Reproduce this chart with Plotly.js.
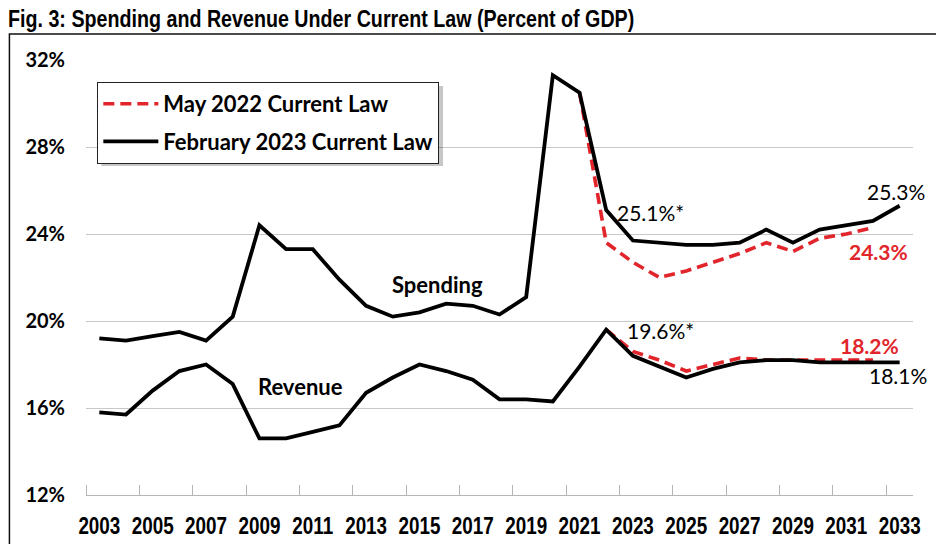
<!DOCTYPE html>
<html><head><meta charset="utf-8">
<script src="https://cdn.plot.ly/plotly-3.0.1.min.js"></script>
<style>html,body{margin:0;padding:0;background:#fff;} #chart{width:936px;height:544px;}</style>
</head><body><div id="chart"></div>
<script>
// ---- data ----
const years = [2003,2004,2005,2006,2007,2008,2009,2010,2011,2012,2013,2014,2015,2016,2017,2018,2019,2020,2021,2022,2023,2024,2025,2026,2027,2028,2029,2030,2031,2032,2033];
const spendingFeb2023 = [19.2,19.1,19.3,19.5,19.1,20.2,24.4,23.3,23.3,21.9,20.7,20.2,20.4,20.8,20.7,20.3,21.1,31.3,30.5,25.1,23.7,23.6,23.5,23.5,23.6,24.2,23.6,24.2,24.4,24.6,25.3];
const revenueFeb2023 = [15.8,15.7,16.8,17.7,18.0,17.1,14.6,14.6,14.9,15.2,16.7,17.4,18.0,17.7,17.3,16.4,16.4,16.3,17.9,19.6,18.4,17.9,17.4,17.8,18.1,18.2,18.2,18.1,18.1,18.1,18.1];
const spendingYearsMay2022 = [2021,2022,2023,2024,2025,2026,2027,2028,2029,2030,2031,2032];
const spendingMay2022 = [30.5,23.6,22.7,22.0,22.3,22.7,23.1,23.6,23.2,23.8,24.0,24.3];
const revenueYearsMay2022 = [2022,2023,2024,2025,2026,2027,2028,2029,2030,2031,2032];
const revenueMay2022 = [19.6,18.6,18.2,17.7,18.0,18.3,18.2,18.2,18.2,18.2,18.2];
const xTickYears = [2003,2005,2007,2009,2011,2013,2015,2017,2019,2021,2023,2025,2027,2029,2031,2033];
const yTicks = [12,16,20,24,28,32];
const seriesNames = ['May 2022 Current Law','February 2023 Current Law'];
const titleText = 'Fig. 3: Spending and Revenue Under Current Law (Percent of GDP)';

// ---- styles ----
const RED = '#e1252b';
const BLACK = '#000000';
const LATO = 'Lato, Carlito, Calibri, sans-serif';
const ARIAL = '"Liberation Sans", Arial, sans-serif';
const redLine = {color: RED, width: 3.6, dash: '11px,6px'};
const blackLine = {color: BLACK, width: 3.8};

const traces = [
  {x: spendingYearsMay2022, y: spendingMay2022, mode: 'lines', name: seriesNames[0], line: redLine, legendgroup: 'may', hoverinfo: 'skip'},
  {x: revenueYearsMay2022, y: revenueMay2022, mode: 'lines', name: seriesNames[0], line: redLine, legendgroup: 'may', showlegend: false, hoverinfo: 'skip'},
  {x: years, y: spendingFeb2023, mode: 'lines', name: seriesNames[1], line: blackLine, legendgroup: 'feb', hoverinfo: 'skip'},
  {x: years, y: revenueFeb2023, mode: 'lines', name: seriesNames[1], line: blackLine, legendgroup: 'feb', showlegend: false, hoverinfo: 'skip'}
];

const iY = y => years.indexOf(y);
const iS = y => spendingYearsMay2022.indexOf(y);
const iR = y => revenueYearsMay2022.indexOf(y);
const fmt = v => v.toFixed(1) + '%';

const annFontB = {family: LATO, size: 21, color: BLACK};
const annFontR = {family: LATO, size: 21, color: RED, weight: 'bold'};
const annotations = [
  {x: 2022, y: spendingFeb2023[iY(2022)], text: fmt(spendingFeb2023[iY(2022)]) + '*', xanchor: 'left', yanchor: 'middle', xshift: 9, yshift: -2, showarrow: false, font: annFontB},
  {x: 2022, y: revenueFeb2023[iY(2022)], text: fmt(revenueFeb2023[iY(2022)]) + '*', xanchor: 'left', yanchor: 'middle', xshift: 19, yshift: -1, showarrow: false, font: annFontB},
  {x: 2033, y: spendingFeb2023[iY(2033)], text: fmt(spendingFeb2023[iY(2033)]), xanchor: 'center', yanchor: 'middle', xshift: -4, yshift: 14, showarrow: false, font: annFontB},
  {x: 2032, y: spendingMay2022[iS(2032)], text: fmt(spendingMay2022[iS(2032)]), xanchor: 'center', yanchor: 'middle', xshift: 6, yshift: -24, showarrow: false, font: annFontR},
  {x: 2032, y: revenueMay2022[iR(2032)], text: fmt(revenueMay2022[iR(2032)]), xanchor: 'center', yanchor: 'middle', xshift: -3, yshift: 15, showarrow: false, font: annFontR},
  {x: 2033, y: revenueFeb2023[iY(2033)], text: fmt(revenueFeb2023[iY(2033)]), xanchor: 'center', yanchor: 'middle', xshift: -2, yshift: -13, showarrow: false, font: annFontB},
  {x: 2015.66, y: 21.7, text: 'Spending', showarrow: false, font: {family: LATO, size: 22, color: BLACK, weight: 'bold'}},
  {x: 2010.53, y: 17.0, text: 'Revenue', showarrow: false, font: {family: LATO, size: 22, color: BLACK, weight: 'bold'}}
];

const layout = {
  width: 936, height: 544,
  margin: {l: 86, r: 23, t: 60, b: 49},
  paper_bgcolor: '#ffffff', plot_bgcolor: '#ffffff',
  title: {text: titleText, font: {family: ARIAL, size: 24, color: BLACK, weight: 'bold'}, xref: 'container', yref: 'container', x: 8/936, xanchor: 'left', y: 1 - 19/544, yanchor: 'middle'},
  showlegend: true,
  legend: {x: 0.0137, y: 0.9494, xanchor: 'left', yanchor: 'top', bgcolor: '#ffffff', bordercolor: '#222222', borderwidth: 1,
           font: {family: LATO, size: 22, color: BLACK, weight: 'bold'}, traceorder: 'grouped', tracegroupgap: 6, itemwidth: 55},
  xaxis: {range: [2002.5, 2033.5], tickmode: 'array', tickvals: xTickYears, ticktext: xTickYears.map(String), ticks: '', tickangle: 0,
          showline: true, linecolor: '#b5b5b5', linewidth: 1, showgrid: false, zeroline: false,
          tickfont: {family: ARIAL, size: 23, color: BLACK, weight: 'bold'}, ticklabelstandoff: 10,
          minor: {tickmode: 'array', tickvals: xTickYears.map(y => y - 0.5), ticks: 'inside', ticklen: 10, tickwidth: 1, tickcolor: '#b5b5b5', showgrid: false},
          fixedrange: true},
  yaxis: {range: [12, 32], tickmode: 'array', tickvals: yTicks, ticktext: yTicks.map(v => v + '%'), ticks: '',
          showgrid: true, gridcolor: '#c8c8c8', gridwidth: 1, showline: false, zeroline: false,
          tickfont: {family: LATO, size: 20, color: BLACK, weight: 'bold'}, ticklabelstandoff: 20, fixedrange: true},
  annotations: annotations,
  shapes: [
    {type: 'rect', xref: 'paper', yref: 'paper', x0: -0.0926, x1: 1.2, y0: -0.3, y1: 1.0598, line: {color: '#111111', width: 1.5}, layer: 'below'},
    {type: 'rect', xref: 'paper', yref: 'paper', x0: 0.01855, x1: 0.4317, y0: 0.7563, y1: 0.9402, fillcolor: 'rgba(0,0,0,0.22)', line: {width: 0}, layer: 'above'}
  ]
};

// Narrow look (Arial Narrow is Arial condensed horizontally): condense title and x tick labels.
function condense(el, anchor, k) {
  if (el.getAttribute('data-condensed')) return;
  const bb = el.getBBox();
  const cx = anchor === 'left' ? bb.x : bb.x + bb.width / 2;
  const t = el.getAttribute('transform') || '';
  el.setAttribute('transform', t + ' translate(' + cx + ',0) scale(' + k + ',1) translate(' + (-cx) + ',0)');
  el.setAttribute('data-condensed', '1');
}
function finish() {
  document.querySelectorAll('#chart .gtitle').forEach(el => condense(el, 'left', 0.82));
  document.querySelectorAll('#chart .xtick text').forEach(el => condense(el, 'center', 0.82));
  // longer legend line samples, as in the reference
  document.querySelectorAll('#chart path').forEach(p => {
    const d = (p.getAttribute('d') || '').replace(/\s/g, '');
    if (/^M5,0h30$/i.test(d) || /^M5,0H35$/i.test(d)) p.setAttribute('d', 'M7,0h49');
  });
}

Plotly.newPlot('chart', traces, layout, {staticPlot: true, displayModeBar: false}).then(function () {
  finish();
  setTimeout(finish, 0);
  setTimeout(finish, 50);
});
</script></body></html>
